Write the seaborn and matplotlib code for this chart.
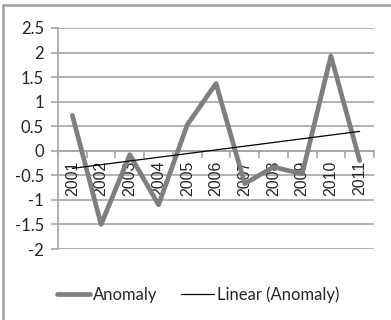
import numpy as np
import pandas as pd
import matplotlib
matplotlib.use("Agg")
import matplotlib.pyplot as plt
import seaborn as sns
from matplotlib.lines import Line2D

years = ["2001", "2002", "2003", "2004", "2005", "2006", "2007", "2008", "2009", "2010", "2011"]
anomaly = [0.72, -1.50, -0.08, -1.10, 0.53, 1.37, -0.67, -0.33, -0.47, 1.93, -0.20]
yticks = [-2, -1.5, -1, -0.5, 0, 0.5, 1, 1.5, 2, 2.5]
ytick_labels = ["-2", "-1.5", "-1", "-0.5", "0", "0.5", "1", "1.5", "2", "2.5"]

sns.set_style("white")
plt.rcParams["font.family"] = ["Lato", "DejaVu Sans"]

idx = np.arange(len(years))
df = pd.DataFrame({"idx": idx, "Anomaly": anomaly})
coef = np.polyfit(idx, anomaly, 1)
df["trend"] = np.polyval(coef, idx)

fig = plt.figure(figsize=(3.91, 3.20), dpi=100)
ax = fig.add_axes([58 / 391, 1 - 249 / 320, (374 - 58) / 391, (249 - 28) / 320])

grid_c = "#a6a6a6"
for y in yticks:
    ax.axhline(y, color=grid_c, lw=1.2, zorder=0)

line_c = "#7f7f7f"
sns.lineplot(data=df, x="idx", y="Anomaly", ax=ax, color=line_c, lw=3.4, zorder=3)
sns.lineplot(data=df, x="idx", y="trend", ax=ax, color="black", lw=0.9, zorder=4)

ax.set_xlim(-0.5, len(years) - 0.5)
ax.set_ylim(-2, 2.5)
ax.set_yticks(yticks)
ax.set_yticklabels(ytick_labels, fontsize=12)
ax.tick_params(axis="y", length=5, width=1.2, color=grid_c, pad=5, left=True)

ax.spines["bottom"].set_position(("data", 0))
for s in ["top", "right"]:
    ax.spines[s].set_visible(False)
ax.spines["left"].set_color(grid_c)
ax.spines["left"].set_linewidth(1.2)
ax.spines["bottom"].set_color(grid_c)
ax.spines["bottom"].set_linewidth(1.2)

ax.set_xticks(idx)
ax.set_xticklabels(years, rotation=90, fontsize=11.5, family=["Liberation Sans", "DejaVu Sans"], va="top")
ax.set_xticks(np.arange(-0.5, len(years)), minor=True)
ax.tick_params(axis="x", which="major", length=0, pad=7, bottom=True)
ax.tick_params(axis="x", which="minor", length=5, width=1.2, color=grid_c, bottom=True)
ax.set_xlabel("")
ax.set_ylabel("")

handles = [Line2D([], [], color=line_c, lw=3.4), Line2D([], [], color="black", lw=0.9)]
fig.legend(handles, ["Anomaly", "Linear (Anomaly)"], loc="center", bbox_to_anchor=(198 / 391, 1 - 295 / 320),
           ncol=2, frameon=False, fontsize=12, handlelength=2.0, handletextpad=0.15, columnspacing=1.4)

# outer chart frame (left and top edges visible)
fig.add_artist(Line2D([3 / 391, 3 / 391], [0, 1 - 5 / 320], transform=fig.transFigure, color="#a0a0a0", lw=1.8))
fig.add_artist(Line2D([3 / 391, 1], [1 - 5 / 320, 1 - 5 / 320], transform=fig.transFigure, color="#a0a0a0", lw=1.8))

fig.savefig("out.png", dpi=100)
